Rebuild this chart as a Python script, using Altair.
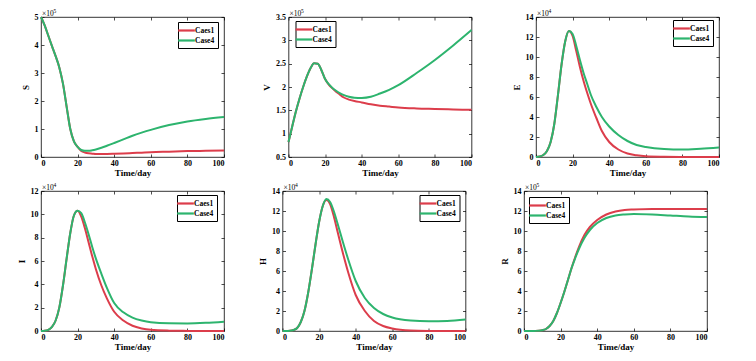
import altair as alt
import pandas as pd

# ---- data (values in the plotted units) ----
t = [0, 2, 4, 6, 8, 10, 12, 14, 16, 18, 20, 22, 24, 26, 28, 30, 33, 36, 40, 45, 50, 55, 60, 70, 80, 90, 100]

S1 = [5.0, 4.7, 4.33, 3.96, 3.6, 3.2, 2.62, 1.8, 1.0, 0.56, 0.36, 0.22, 0.16, 0.13, 0.12, 0.11, 0.11, 0.11, 0.115, 0.125, 0.14, 0.155, 0.17, 0.19, 0.21, 0.22, 0.23]
S4 = [5.0, 4.7, 4.33, 3.96, 3.6, 3.2, 2.62, 1.8, 1.0, 0.56, 0.36, 0.25, 0.22, 0.22, 0.24, 0.27, 0.33, 0.4, 0.5, 0.63, 0.76, 0.87, 0.97, 1.14, 1.27, 1.36, 1.43]

V1 = [0.82, 1.15, 1.47, 1.75, 2.0, 2.22, 2.4, 2.51, 2.5, 2.36, 2.17, 2.05, 1.97, 1.9, 1.84, 1.78, 1.73, 1.7, 1.67, 1.63, 1.6, 1.58, 1.56, 1.54, 1.53, 1.52, 1.51]
V4 = [0.82, 1.15, 1.47, 1.75, 2.0, 2.22, 2.4, 2.51, 2.5, 2.36, 2.17, 2.06, 1.98, 1.92, 1.87, 1.83, 1.79, 1.77, 1.765, 1.79, 1.86, 1.94, 2.04, 2.3, 2.58, 2.89, 3.22]

E1 = [0.0, 0.05, 0.2, 0.6, 1.5, 3.3, 6.2, 9.3, 11.6, 12.6, 12.1, 10.6, 9.0, 7.6, 6.4, 5.3, 3.9, 2.6, 1.5, 0.75, 0.35, 0.17, 0.08, 0.03, 0.01, 0.0, 0.0]
E4 = [0.0, 0.05, 0.2, 0.6, 1.5, 3.3, 6.2, 9.3, 11.6, 12.6, 12.3, 11.1, 9.7, 8.4, 7.3, 6.2, 5.0, 4.0, 3.05, 2.2, 1.6, 1.2, 1.0, 0.8, 0.75, 0.83, 0.95]

I1 = [0.0, 0.02, 0.1, 0.35, 0.9, 2.0, 3.9, 6.2, 8.4, 9.9, 10.3, 9.8, 8.8, 7.6, 6.4, 5.3, 3.9, 2.8, 1.65, 0.9, 0.45, 0.22, 0.1, 0.03, 0.01, 0.0, 0.0]
I4 = [0.0, 0.02, 0.1, 0.35, 0.9, 2.0, 3.9, 6.2, 8.4, 9.9, 10.3, 10.1, 9.3, 8.3, 7.2, 6.2, 4.9, 3.7, 2.4, 1.6, 1.15, 0.9, 0.75, 0.66, 0.65, 0.7, 0.8]

H1 = [0.0, 0.0, 0.02, 0.1, 0.3, 0.9, 2.0, 3.8, 6.1, 8.6, 10.9, 12.5, 13.1, 12.7, 11.5, 10.0, 7.8, 5.8, 3.6, 2.0, 1.0, 0.5, 0.25, 0.05, 0.01, 0.0, 0.0]
H4 = [0.0, 0.0, 0.02, 0.1, 0.3, 0.9, 2.0, 3.8, 6.1, 8.6, 10.9, 12.5, 13.2, 12.9, 12.0, 10.8, 8.9, 7.1, 5.0, 3.3, 2.3, 1.7, 1.35, 1.05, 0.97, 1.0, 1.15]

R1 = [0.0, 0.0, 0.0, 0.01, 0.03, 0.08, 0.2, 0.5, 1.0, 1.8, 2.8, 3.9, 5.1, 6.3, 7.4, 8.4, 9.6, 10.4, 11.1, 11.65, 11.95, 12.1, 12.15, 12.2, 12.2, 12.2, 12.2]
R4 = [0.0, 0.0, 0.0, 0.01, 0.03, 0.08, 0.2, 0.5, 1.0, 1.8, 2.8, 3.9, 5.1, 6.3, 7.3, 8.2, 9.3, 10.1, 10.8, 11.3, 11.55, 11.65, 11.7, 11.65, 11.55, 11.45, 11.4]

cases = ["Caes1", "Case4"]
x_ticks = [0, 20, 40, 60, 80, 100]

RED = "#DC3D4B"
GREEN = "#2DB46E"
FONT = "Liberation Serif"


def panel(name, y1, y4, ydom, yticks, expo, lx, ly):
    df = pd.DataFrame({
        "t": t + t,
        "v": y1 + y4,
        "case": [cases[0]] * len(t) + [cases[1]] * len(t),
    })
    xs = alt.Scale(domain=[0, 100], nice=False, zero=False)
    ys = alt.Scale(domain=ydom, nice=False, zero=False)
    base = alt.Chart(df)
    lines = base.mark_line(strokeWidth=2, interpolate="monotone").encode(
        x=alt.X("t:Q", scale=xs, axis=alt.Axis(values=x_ticks, title="Time/day", ticks=False,
                                                 domain=False, grid=False, labelPadding=2,
                                                 titlePadding=1, format="d")),
        y=alt.Y("v:Q", scale=ys, axis=alt.Axis(values=yticks, title=name, ticks=False,
                                                 domain=False, grid=False, labelPadding=3,
                                                 titlePadding=4, format="~g")),
        color=alt.Color("case:N", scale=alt.Scale(domain=cases, range=[RED, GREEN]),
                        legend=alt.Legend(title=None, orient="none", legendX=lx, legendY=ly,
                                          symbolType="M-2,0H2", symbolSize=70,
                                          symbolStrokeWidth=2.2, strokeColor="black",
                                          fillColor="white", padding=3, rowPadding=0,
                                          labelFont=FONT, labelFontWeight="bold",
                                          labelFontSize=7.5, labelColor="black",
                                          labelOffset=3, symbolOffset=0)),
    )
    tick_a = base.mark_line(opacity=0).encode(
        x=alt.X("t:Q", scale=xs, axis=alt.Axis(orient="bottom", values=x_ticks, labels=False,
                                                 title=None, domain=False, grid=False,
                                                 tickSize=3, offset=-3)),
        y=alt.Y("v:Q", scale=ys, axis=alt.Axis(orient="left", values=yticks, labels=False,
                                                 title=None, domain=False, grid=False,
                                                 tickSize=3, offset=-3)),
    )
    tick_b = base.mark_line(opacity=0).encode(
        x=alt.X("t:Q", scale=xs, axis=alt.Axis(orient="top", values=x_ticks, labels=False,
                                                 title=None, domain=False, grid=False,
                                                 tickSize=3, offset=-3)),
        y=alt.Y("v:Q", scale=ys, axis=alt.Axis(orient="right", values=yticks, labels=False,
                                                 title=None, domain=False, grid=False,
                                                 tickSize=3, offset=-3)),
    )
    tx = alt.Chart(pd.DataFrame({"s": ["×10"]})).mark_text(
        align="left", baseline="alphabetic", font=FONT, fontSize=7.5, color="black"
    ).encode(x=alt.value(1), y=alt.value(-1), text="s:N")
    te = alt.Chart(pd.DataFrame({"s": [expo]})).mark_text(
        align="left", baseline="alphabetic", font=FONT, fontSize=5.5, color="black"
    ).encode(x=alt.value(12.5), y=alt.value(-4.5), text="s:N")
    return alt.layer(lines, tick_a, tick_b, tx, te).resolve_axis(
        x="independent", y="independent"
    ).properties(width=183, height=140)


p1 = panel("S", S1, S4, [0, 5], [0, 1, 2, 3, 4, 5], "5", 137, 5)
p2 = panel("V", V1, V4, [0.5, 3.5], [0.5, 1, 1.5, 2, 2.5, 3, 3.5], "5", 7, 4)
p3 = panel("E", E1, E4, [0, 14], [0, 2, 4, 6, 8, 10, 12, 14], "4", 137, 3)
p4 = panel("I", I1, I4, [0, 12], [0, 2, 4, 6, 8, 10, 12], "4", 136, 4)
p5 = panel("H", H1, H4, [0, 14], [0, 2, 4, 6, 8, 10, 12, 14], "4", 137, 4)
p6 = panel("R", R1, R4, [0, 14], [0, 2, 4, 6, 8, 10, 12, 14], "5", 5, 6)

top = alt.hconcat(p1, p2, p3, spacing=64.5, bounds="flush").resolve_scale(color="independent")
bot = alt.hconcat(p4, p5, p6, spacing=58.5, bounds="flush").resolve_scale(color="independent")

chart = alt.vconcat(top, bot, spacing=4).resolve_scale(color="independent").properties(
    padding={"left": 8, "top": 0, "right": 0, "bottom": 0}, background="white"
).configure_view(stroke="black", strokeWidth=0.8).configure_axis(
    labelFont=FONT, titleFont=FONT, labelFontWeight="bold", titleFontWeight="bold",
    labelFontSize=8, titleFontSize=9, labelColor="black", titleColor="black",
    tickColor="black", tickWidth=0.7
)

chart.save("out.html", embed_options={"renderer": "svg", "actions": False})
